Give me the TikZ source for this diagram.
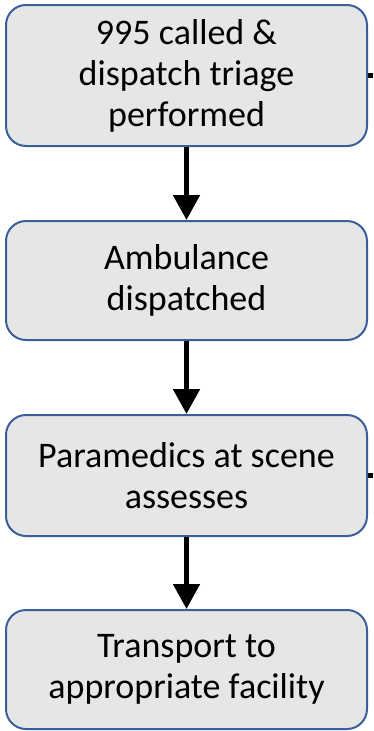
\documentclass[tikz,border=0pt]{standalone}
\usepackage{fontspec}
\setmainfont{Carlito}
\usetikzlibrary{arrows.meta}
\definecolor{boxfill}{HTML}{E7E6E6}
\definecolor{boxline}{HTML}{3A5F9A}
\begin{document}
\begin{tikzpicture}[x=1pt,y=-1pt,
  stepbox/.style={draw=boxline, fill=boxfill, line width=2pt,
    rounded corners=20pt, minimum width=361pt, inner sep=0pt,
    align=center, font=\fontsize{36}{41}\selectfont},
  flow/.style={line width=5pt, -{Triangle[width=26pt,length=25pt]}},
  stub/.style={line width=5pt}]
  \useasboundingbox (0,0) rectangle (373,731);
  \node[stepbox, minimum height=141pt] (b1) at (186.5,75.5)
    {995 called \&\\dispatch triage\\performed};
  \node[stepbox, minimum height=119pt] (b2) at (186.5,280.5)
    {Ambulance\\dispatched};
  \node[stepbox, minimum height=121pt] (b3) at (186.5,475.5)
    {Paramedics at scene\\assesses};
  \node[stepbox, minimum height=119pt] (b4) at (186.5,669.5)
    {Transport to\\appropriate facility};
  \draw[flow] (b1.south) -- (b2.north);
  \draw[flow] (b2.south) -- (b3.north);
  \draw[flow] (b3.south) -- (b4.north);
  \coordinate (e1) at (373,75.5);
  \coordinate (e3) at (373,475.5);
  \draw[stub] (b1.east) -- (e1);
  \draw[stub] (b3.east) -- (e3);
\end{tikzpicture}
\end{document}
